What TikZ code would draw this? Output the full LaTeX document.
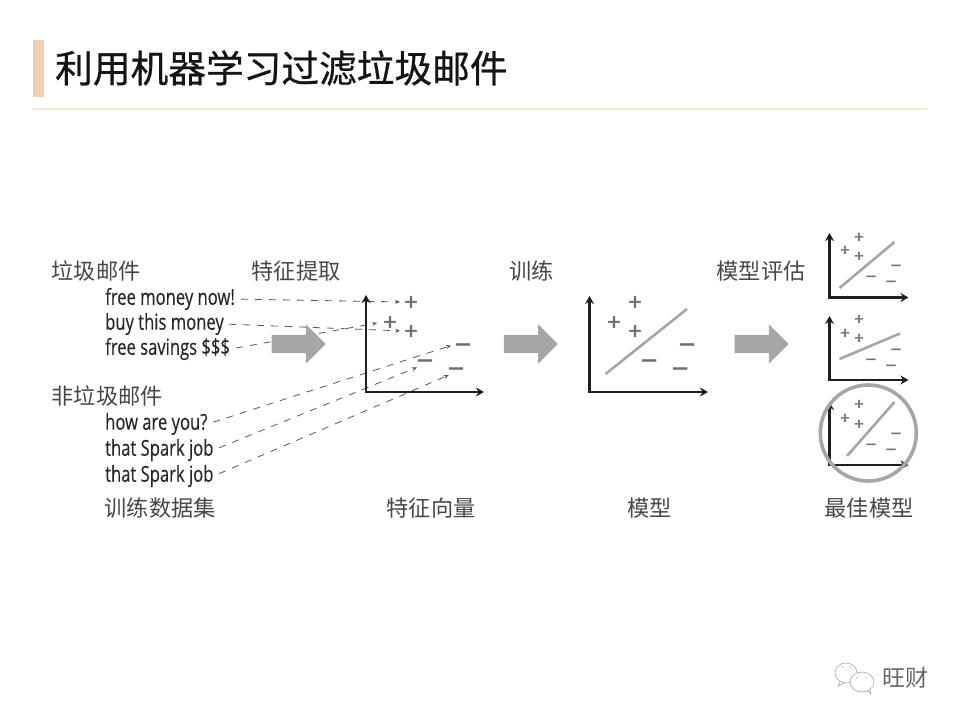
\documentclass[tikz,border=0pt]{standalone}
\usepackage{fontspec}
\setmainfont{Liberation Sans}
\newfontfamily\cjk{Noto Sans CJK SC}
\newfontfamily\cjkmed[FakeBold=0.7]{Noto Sans CJK SC}
\newfontfamily\enfont[FakeStretch=0.755,FakeBold=0.25]{Open Sans}
\newfontfamily\markfont[FakeBold=2.4]{Liberation Sans}
\usetikzlibrary{arrows.meta,shapes.arrows}
\definecolor{headbar}{HTML}{EFD0B6}
\definecolor{headrule}{HTML}{F7E6DA}
\definecolor{markgray}{HTML}{707070}
\definecolor{sepgray}{HTML}{A6A6A6}

\begin{document}
\begin{tikzpicture}[x=1pt,y=-1pt,
  ttl/.style={font=\cjkmed\fontsize{37.7}{44}\selectfont, text=black!92, anchor=west, inner sep=0pt},
  lb/.style={font=\cjk\fontsize{22.2}{26}\selectfont, text=black!72, anchor=west, inner sep=0pt},
  msg/.style={font=\enfont\fontsize{22}{26}\selectfont, text=black!85, anchor=west, inner sep=0pt},
  pl/.style={font=\markfont\fontsize{23}{23}\selectfont, text=markgray, inner sep=0pt, text height=15pt, text depth=0pt},
  mi/.style={font=\markfont\fontsize{25}{25}\selectfont, text=markgray, inner sep=0pt, text height=13.75pt, text depth=0pt},
  pls/.style={font=\markfont\fontsize{16}{16}\selectfont, text=markgray, inner sep=0pt, text height=10.4pt, text depth=0pt},
  mis/.style={font=\markfont\fontsize{16}{16}\selectfont, text=markgray, inner sep=0pt, text height=8.8pt, text depth=0pt},
  ax/.style={{Stealth[length=8pt,width=9pt]}-{Stealth[length=8pt,width=9pt]}, line width=\w pt, black!88},
  sep/.style={line width=2.6pt, sepgray},
  dsh/.style={-{Stealth[length=5pt,width=4pt]}, dash pattern=on 7pt off 7pt, line width=.8pt, black!66},
  blk/.style={single arrow, fill=sepgray, text height=18pt, text depth=0pt, minimum height=54pt, minimum width=39pt, single arrow head extend=10.5pt, inner sep=0pt}
]
\useasboundingbox (0,0) rectangle (960,720);

% header
\fill[headbar] (33,40) rectangle (44,97);
\draw[headrule, line width=1.8pt] (33,109) -- (927,109);
\node[ttl] (title) at (55,68) {利用机器学习过滤垃圾邮件};

% labels
\foreach \n/\x/\y/\t in {
 l1/51.5/271/垃圾邮件, l2/251.5/271/特征提取, l3/509.5/271/训练, l4/716.5/271/模型评估,
 l5/51.5/396/非垃圾邮件, l6/104.5/508/训练数据集, l7/386.5/508/特征向量, l8/627.5/508/模型, l9/824.5/508/最佳模型}
 \node[lb] (\n) at (\x,\y) {\t};

% messages
\foreach \n/\y/\t in {s1/299/free money now!, s2/324/buy this money, s3/349/free savings \$\$\$,
 h1/424/how are you?, h2/450/that Spark job, h3/476/that Spark job}
 \node[msg] (\n) at (105,\y) {\t};

% plus and minus marks
\foreach \n/\x/\y in {fp1/411/302, fp2/390/322, fp3/411/331, mp1/635/302, mp2/614/322, mp3/635/331}
 \node[pl] (\n) at (\x,\y) {+};
\foreach \n/\x/\y in {fm1/463/344, fm2/425/360, fm3/456/368, mm1/687/344, mm2/649/360, mm3/680/368}
 \node[mi] (\n) at (\x,\y) {–};
\foreach \n/\x/\y in {ap1/859/237, ap2/845/250, ap3/859/256, bp1/859/319, bp2/845/333, bp3/859/338, cp1/859/404, cp2/845/418, cp3/859/424}
 \node[pls] (\n) at (\x,\y) {+};
\foreach \n/\x/\y in {am1/896/265, am2/871/276, am3/891/281, bm1/896/349, bm2/871/359, bm3/891/365, cm1/896/433, cm2/871/444, cm3/891/449}
 \node[mis] (\n) at (\x,\y) {–};

% dashed links
\foreach \a/\b/\sa/\sb in {s1.east/fp1.west/6/4, s2.east/fp3.west/5/4, s3.east/fp2.west/6/6, h1.east/fm1.west/6/5, h2.east/fm2.south west/6/1, h3.east/fm3.south west/6/0}
 \draw[dsh, shorten <=\sa pt, shorten >=\sb pt] (\a) -- (\b);

% axes
\foreach \n/\ox/\oy/\xt/\yt/\w in {f/366/392/484/295/2.6, m/589.5/392/708/296/2.6, ea/829.5/297.5/908.5/233/2.1, eb/829.5/380/908.5/316/2.1, ec/829.5/465/908.5/402/2.1} {
 \coordinate (\n o) at (\ox,\oy);
 \coordinate (\n x) at (\xt,\oy);
 \coordinate (\n y) at (\ox,\yt);
 \draw[ax] (\n y) -- (\n o) -- (\n x);
}

% separating lines
\foreach \n/\ax/\ay/\bx/\by in {m/605.5/374/687/309, a/839.5/288/894.5/242, b/839.5/359/900/333.5, c/847/456/894.5/402} {
 \coordinate (\n s) at (\ax,\ay);
 \coordinate (\n e) at (\bx,\by);
 \draw[sep] (\n s) -- (\n e);
}

% block arrows
\foreach \n/\x in {a1/294,a2/526.3,a3/757} \node[blk] (\n) at (\x,344) {};

% best model ring
\node[circle, draw=sepgray, line width=3.6pt, minimum size=96pt, inner sep=0pt] (best) at (868.3,433) {};

% watermark
\draw[black!40, line width=.5pt] (846,673) ellipse (11pt and 10pt);
\fill[white] (862,682) ellipse (12.5pt and 10.5pt);
\draw[black!40, line width=.5pt] (862,682) ellipse (12pt and 10pt);
\draw[black!40, line width=.5pt] (840,682) -- (838,686) -- (844,683);
\draw[black!40, line width=.5pt] (868,691) -- (871,694) -- (870,690);
\foreach \x/\y in {842/667, 850/667, 857/678, 866/678} \fill[black!50] (\x,\y) circle (.7pt);
\node[lb, font=\cjk\fontsize{23}{26}\selectfont, text=black!60] (mark) at (882,678) {旺财};
\end{tikzpicture}
\end{document}
